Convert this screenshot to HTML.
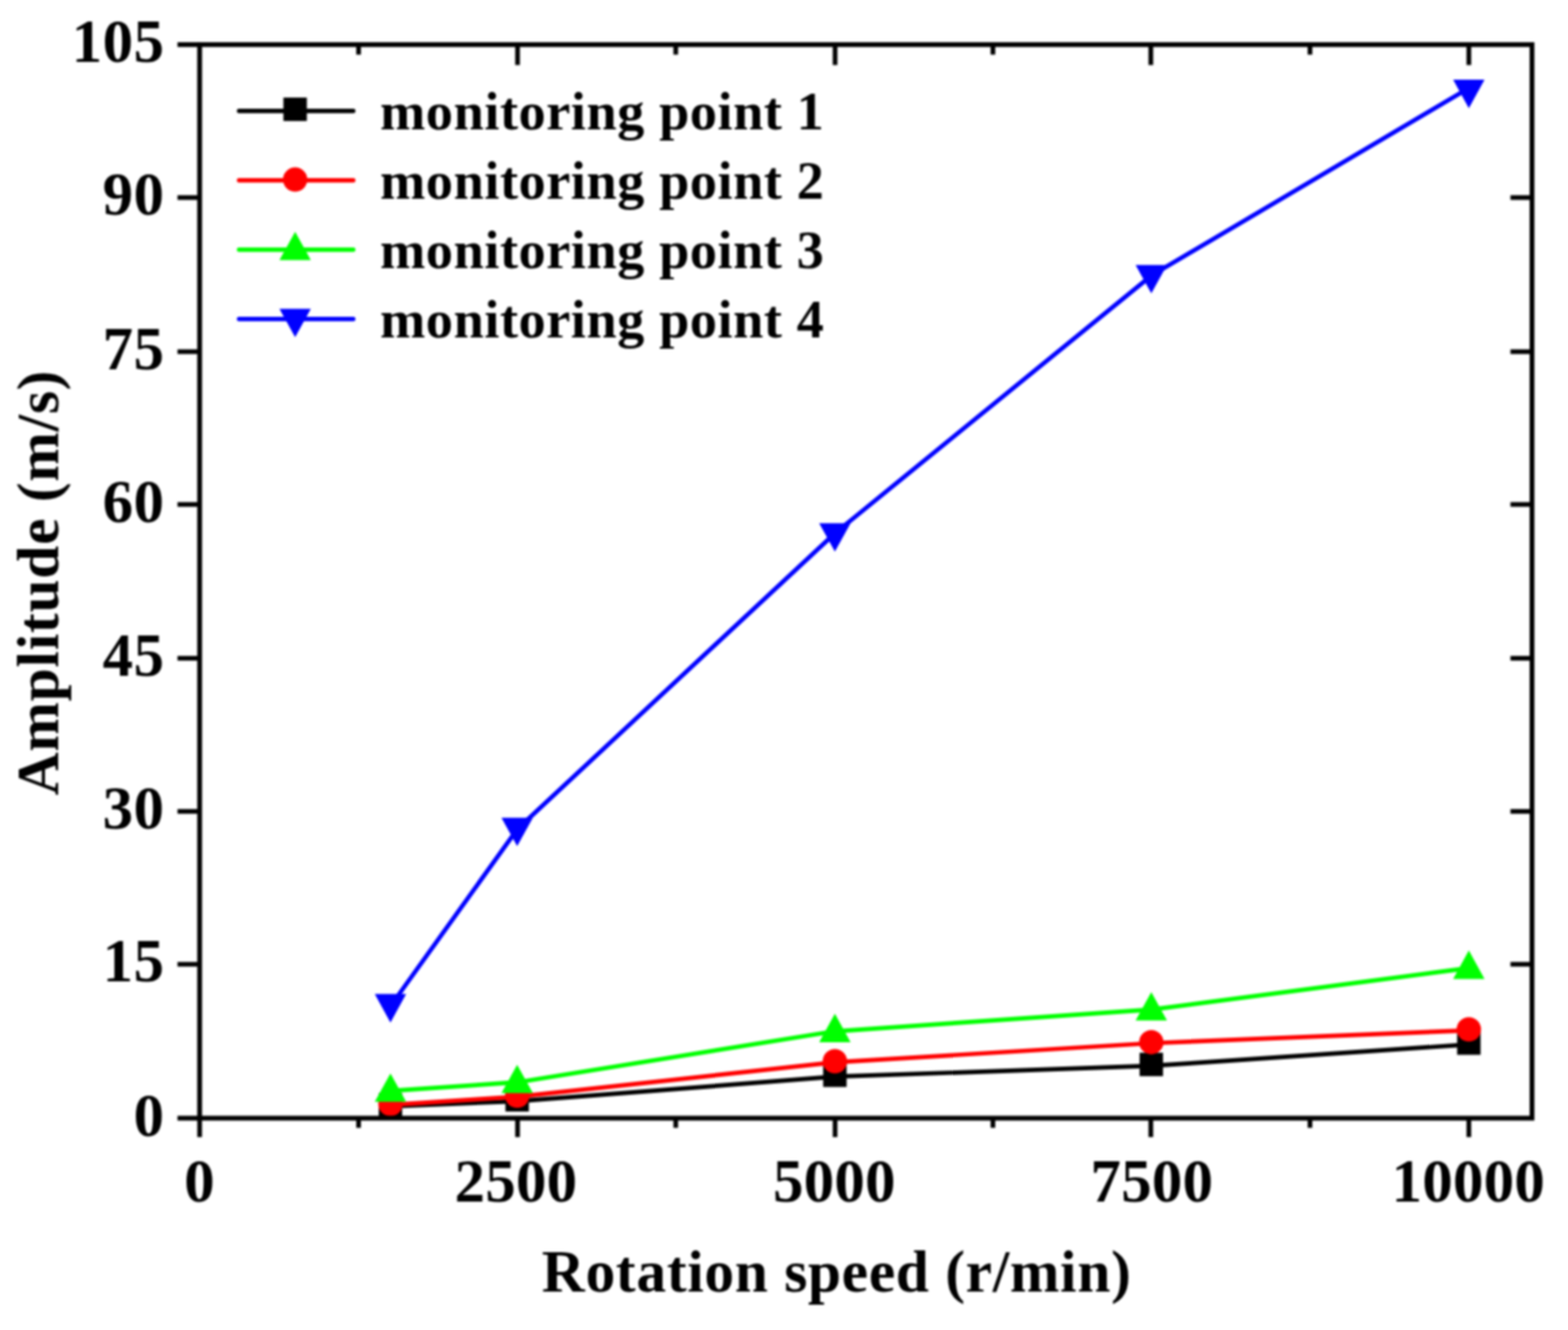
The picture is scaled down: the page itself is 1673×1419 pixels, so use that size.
<!DOCTYPE html>
<html lang="en">
<head>
<meta charset="utf-8">
<title>Amplitude vs rotation speed</title>
<style>
html,body{margin:0;padding:0;background:#ffffff;}
body{width:1673px;height:1419px;overflow:hidden;}
svg{display:block;filter:blur(0.9px);}
text{font-kerning:none;}
</style>
</head>
<body>
<svg width="1673" height="1419" viewBox="0 0 1673 1419">
<rect x="0" y="0" width="1673" height="1419" fill="#ffffff"/>
<g id="series">
<polyline points="416.60,1180.30 551.80,1174.90 890.80,1148.70 1228.40,1137.20 1567.20,1114.40" fill="none" stroke="#000000" stroke-width="4.7" stroke-linejoin="round"/>
<rect x="404.10" y="1166.30" width="25.0" height="25.0" fill="#000000"/>
<rect x="539.30" y="1160.90" width="25.0" height="25.0" fill="#000000"/>
<rect x="878.30" y="1134.70" width="25.0" height="25.0" fill="#000000"/>
<rect x="1215.90" y="1123.20" width="25.0" height="25.0" fill="#000000"/>
<rect x="1554.70" y="1100.40" width="25.0" height="25.0" fill="#000000"/>
<polyline points="416.60,1178.90 551.80,1170.10 890.80,1133.40 1228.40,1113.00 1567.20,1099.30" fill="none" stroke="#ff0000" stroke-width="4.7" stroke-linejoin="round"/>
<circle cx="416.60" cy="1177.80" r="13" fill="#ff0000"/>
<circle cx="551.80" cy="1169.00" r="13" fill="#ff0000"/>
<circle cx="890.80" cy="1132.30" r="13" fill="#ff0000"/>
<circle cx="1228.40" cy="1111.90" r="13" fill="#ff0000"/>
<circle cx="1567.20" cy="1098.20" r="13" fill="#ff0000"/>
<polyline points="416.60,1163.90 551.80,1154.70 890.80,1100.30 1228.40,1077.20 1567.20,1032.80" fill="none" stroke="#00ff00" stroke-width="4.7" stroke-linejoin="round"/>
<polygon points="416.60,1145.20 433.35,1175.50 399.85,1175.50" fill="#00ff00"/>
<polygon points="551.80,1136.00 568.55,1166.30 535.05,1166.30" fill="#00ff00"/>
<polygon points="890.80,1081.60 907.55,1111.90 874.05,1111.90" fill="#00ff00"/>
<polygon points="1228.40,1058.50 1245.15,1088.80 1211.65,1088.80" fill="#00ff00"/>
<polygon points="1567.20,1014.10 1583.95,1044.40 1550.45,1044.40" fill="#00ff00"/>
<polyline points="416.60,1073.50 551.80,884.80 890.80,569.00 1228.40,294.10 1567.20,94.00" fill="none" stroke="#0000ff" stroke-width="4.7" stroke-linejoin="round"/>
<polygon points="416.60,1090.90 433.35,1060.60 399.85,1060.60" fill="#0000ff"/>
<polygon points="551.80,902.80 568.55,872.50 535.05,872.50" fill="#0000ff"/>
<polygon points="890.80,588.60 907.55,558.30 874.05,558.30" fill="#0000ff"/>
<polygon points="1228.40,313.10 1245.15,282.80 1211.65,282.80" fill="#0000ff"/>
<polygon points="1567.20,115.40 1583.95,85.10 1550.45,85.10" fill="#0000ff"/>
</g>
<g id="axes" stroke="#000000" fill="none">
<rect x="213.0" y="47.6" width="1421.6" height="1145.4" stroke-width="5.1"/>
<line x1="189.4" y1="1193.00" x2="213.0" y2="1193.00" stroke-width="5.1"/>
<line x1="189.4" y1="1028.80" x2="213.0" y2="1028.80" stroke-width="5.0"/>
<line x1="1611.6" y1="1028.80" x2="1634.6" y2="1028.80" stroke-width="5.0"/>
<line x1="189.4" y1="865.70" x2="213.0" y2="865.70" stroke-width="5.0"/>
<line x1="1611.6" y1="865.70" x2="1634.6" y2="865.70" stroke-width="5.0"/>
<line x1="189.4" y1="702.30" x2="213.0" y2="702.30" stroke-width="5.0"/>
<line x1="1611.6" y1="702.30" x2="1634.6" y2="702.30" stroke-width="5.0"/>
<line x1="189.4" y1="538.20" x2="213.0" y2="538.20" stroke-width="5.0"/>
<line x1="1611.6" y1="538.20" x2="1634.6" y2="538.20" stroke-width="5.0"/>
<line x1="189.4" y1="375.20" x2="213.0" y2="375.20" stroke-width="5.0"/>
<line x1="1611.6" y1="375.20" x2="1634.6" y2="375.20" stroke-width="5.0"/>
<line x1="189.4" y1="210.80" x2="213.0" y2="210.80" stroke-width="5.0"/>
<line x1="1611.6" y1="210.80" x2="1634.6" y2="210.80" stroke-width="5.0"/>
<line x1="189.4" y1="47.60" x2="213.0" y2="47.60" stroke-width="5.1"/>
<line x1="213.00" y1="1193.0" x2="213.00" y2="1213.2" stroke-width="5.0"/>
<line x1="382.60" y1="1193.0" x2="382.60" y2="1203.3" stroke-width="5.0"/>
<line x1="382.60" y1="47.6" x2="382.60" y2="58.3" stroke-width="5.0"/>
<line x1="552.20" y1="1193.0" x2="552.20" y2="1213.2" stroke-width="5.0"/>
<line x1="552.20" y1="47.6" x2="552.20" y2="69.4" stroke-width="5.0"/>
<line x1="721.00" y1="1193.0" x2="721.00" y2="1203.3" stroke-width="5.0"/>
<line x1="721.00" y1="47.6" x2="721.00" y2="58.3" stroke-width="5.0"/>
<line x1="891.00" y1="1193.0" x2="891.00" y2="1213.2" stroke-width="5.0"/>
<line x1="891.00" y1="47.6" x2="891.00" y2="69.4" stroke-width="5.0"/>
<line x1="1059.40" y1="1193.0" x2="1059.40" y2="1203.3" stroke-width="5.0"/>
<line x1="1059.40" y1="47.6" x2="1059.40" y2="58.3" stroke-width="5.0"/>
<line x1="1227.90" y1="1193.0" x2="1227.90" y2="1213.2" stroke-width="5.0"/>
<line x1="1227.90" y1="47.6" x2="1227.90" y2="69.4" stroke-width="5.0"/>
<line x1="1397.70" y1="1193.0" x2="1397.70" y2="1203.3" stroke-width="5.0"/>
<line x1="1397.70" y1="47.6" x2="1397.70" y2="58.3" stroke-width="5.0"/>
<line x1="1567.20" y1="1193.0" x2="1567.20" y2="1213.2" stroke-width="5.0"/>
<line x1="1567.20" y1="47.6" x2="1567.20" y2="69.4" stroke-width="5.0"/>
</g>
<g id="ticklabels" font-family="'Liberation Serif', 'Times New Roman', Times, serif" font-weight="bold" font-size="65" fill="#000000">
<text x="175.6" y="1211.50" text-anchor="end" letter-spacing="0.5">0</text>
<text x="175.6" y="1047.30" text-anchor="end" letter-spacing="0.5">15</text>
<text x="175.6" y="884.20" text-anchor="end" letter-spacing="0.5">30</text>
<text x="175.6" y="720.80" text-anchor="end" letter-spacing="0.5">45</text>
<text x="175.6" y="556.70" text-anchor="end" letter-spacing="0.5">60</text>
<text x="175.6" y="393.70" text-anchor="end" letter-spacing="0.5">75</text>
<text x="175.6" y="229.30" text-anchor="end" letter-spacing="0.5">90</text>
<text x="175.6" y="66.10" text-anchor="end" letter-spacing="0.5">105</text>
<text x="212.80" y="1281.6" text-anchor="middle" letter-spacing="0.25">0</text>
<text x="550.40" y="1281.6" text-anchor="middle" letter-spacing="0.25">2500</text>
<text x="890.20" y="1281.6" text-anchor="middle" letter-spacing="0.25">5000</text>
<text x="1229.10" y="1281.6" text-anchor="middle" letter-spacing="0.25">7500</text>
<text x="1566.60" y="1281.6" text-anchor="middle" letter-spacing="0.25">10000</text>
</g>
<text id="xtitle" font-family="'Liberation Serif', 'Times New Roman', Times, serif" font-weight="bold" font-size="63.5" letter-spacing="0.7" fill="#000000" x="892.7" y="1378.4" text-anchor="middle">Rotation speed (r/min)</text>
<text id="ytitle" font-family="'Liberation Serif', 'Times New Roman', Times, serif" font-weight="bold" font-size="63.5" letter-spacing="0.75" fill="#000000" transform="translate(62.3 621.5) rotate(-90)" text-anchor="middle">Amplitude (m/s)</text>
<g id="legend">
<line x1="255.0" y1="118.4" x2="377.0" y2="118.4" stroke="#000000" stroke-width="4.7" stroke-linecap="round"/>
<rect x="302.40" y="104.10" width="25.0" height="25.0" fill="#000000"/>
<line x1="255.0" y1="192.4" x2="377.0" y2="192.4" stroke="#ff0000" stroke-width="4.7" stroke-linecap="round"/>
<circle cx="314.90" cy="191.60" r="13" fill="#ff0000"/>
<line x1="255.0" y1="266.4" x2="377.0" y2="266.4" stroke="#00ff00" stroke-width="4.7" stroke-linecap="round"/>
<polygon points="314.90,247.30 331.65,277.60 298.15,277.60" fill="#00ff00"/>
<line x1="255.0" y1="340.4" x2="377.0" y2="340.4" stroke="#0000ff" stroke-width="4.7" stroke-linecap="round"/>
<polygon points="314.90,359.80 331.65,329.50 298.15,329.50" fill="#0000ff"/>
<g font-family="'Liberation Serif', 'Times New Roman', Times, serif" font-weight="bold" font-size="58" letter-spacing="0.55" fill="#000000">
<text id="leg1" x="405.5" y="138.10">monitoring point 1</text>
<text id="leg2" x="405.5" y="212.10">monitoring point 2</text>
<text id="leg3" x="405.5" y="286.10">monitoring point 3</text>
<text id="leg4" x="405.5" y="360.10">monitoring point 4</text>
</g></g>
</svg>
</body>
</html>
